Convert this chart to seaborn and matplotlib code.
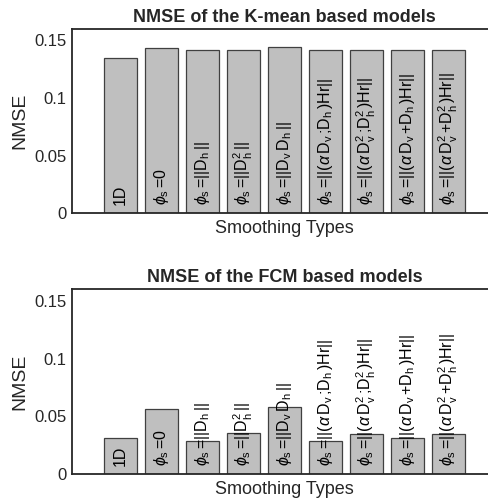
import numpy as np
import pandas as pd
import matplotlib
matplotlib.use("Agg")
import matplotlib.pyplot as plt
import seaborn as sns

sns.set_style("white")
plt.rcParams["font.family"] = ["Liberation Sans", "DejaVu Sans"]
plt.rcParams["mathtext.fontset"] = "custom"
plt.rcParams["mathtext.rm"] = "Liberation Sans"
plt.rcParams["mathtext.it"] = "Liberation Sans:italic"

# bar labels (MATLAB-style TeX, upright sub/superscripts)
labels = [
    "1D",
    r"$\phi_\mathrm{s}\,$=0",
    r"$\phi_\mathrm{s}\,$=||D$_\mathrm{h}\,$||",
    r"$\phi_\mathrm{s}\,$=||D$^\mathrm{2}_\mathrm{h}\,$||",
    r"$\phi_\mathrm{s}\,$=||D$_\mathrm{v}\,$D$_\mathrm{h}\,$||",
    r"$\phi_\mathrm{s}\,$=||($\alpha\,$D$_\mathrm{v}\,$;D$_\mathrm{h}\,$)Hr||",
    r"$\phi_\mathrm{s}\,$=||($\alpha\,$D$^\mathrm{2}_\mathrm{v}\,$;D$^\mathrm{2}_\mathrm{h}\,$)Hr||",
    r"$\phi_\mathrm{s}\,$=||($\alpha\,$D$_\mathrm{v}\,$+D$_\mathrm{h}\,$)Hr||",
    r"$\phi_\mathrm{s}\,$=||($\alpha\,$D$^\mathrm{2}_\mathrm{v}\,$+D$^\mathrm{2}_\mathrm{h}\,$)Hr||",
]
kmean_nmse = [0.135, 0.1437, 0.1416, 0.1416, 0.144, 0.1416, 0.1416, 0.1416, 0.1416]
fcm_nmse = [0.0312, 0.0566, 0.0286, 0.0355, 0.0578, 0.0286, 0.0347, 0.0315, 0.0347]
titles = ["NMSE of the K-mean based models", "NMSE of the FCM based models"]

fig = plt.figure(figsize=(4.88, 5.03), dpi=100)
ax1 = fig.add_axes([72 / 488, 1 - 213 / 503, 425 / 488, 184 / 503])
ax2 = fig.add_axes([72 / 488, 1 - 474 / 503, 425 / 488, 184.7 / 503])

for ax, vals, title in zip([ax1, ax2], [kmean_nmse, fcm_nmse], titles):
    df = pd.DataFrame({"pos": np.arange(len(vals)), "NMSE": vals})
    sns.barplot(data=df, x="pos", y="NMSE", ax=ax, color="#bfbfbf",
                saturation=1, width=0.8, edgecolor="#404040", linewidth=0.9)
    for i, lab in enumerate(labels):
        ax.text(i, 0.007, lab, rotation=90, ha="center", va="bottom",
                fontsize=11.5, color="black")
    ax.set_xlim(-1.19, 9.19)
    ax.set_ylim(0, 0.16)
    ax.set_yticks([0, 0.05, 0.1, 0.15])
    ax.set_yticklabels(["0", "0.05", "0.1", "0.15"])
    ax.set_xticks([])
    ax.tick_params(axis="y", direction="in", length=4, labelsize=12,
                   color="#262626", labelcolor="#262626", pad=4)
    ax.set_title(title, fontsize=13, fontweight="bold", pad=5)
    ax.set_xlabel("Smoothing Types", fontsize=13, color="#262626", labelpad=5)
    ax.set_ylabel("NMSE", fontsize=14, color="#262626", labelpad=4)
    for side in ["left", "bottom", "top"]:
        ax.spines[side].set_color("#262626")
        ax.spines[side].set_linewidth(1.3)
    ax.spines["right"].set_visible(False)

fig.savefig("out.png", dpi=100)
